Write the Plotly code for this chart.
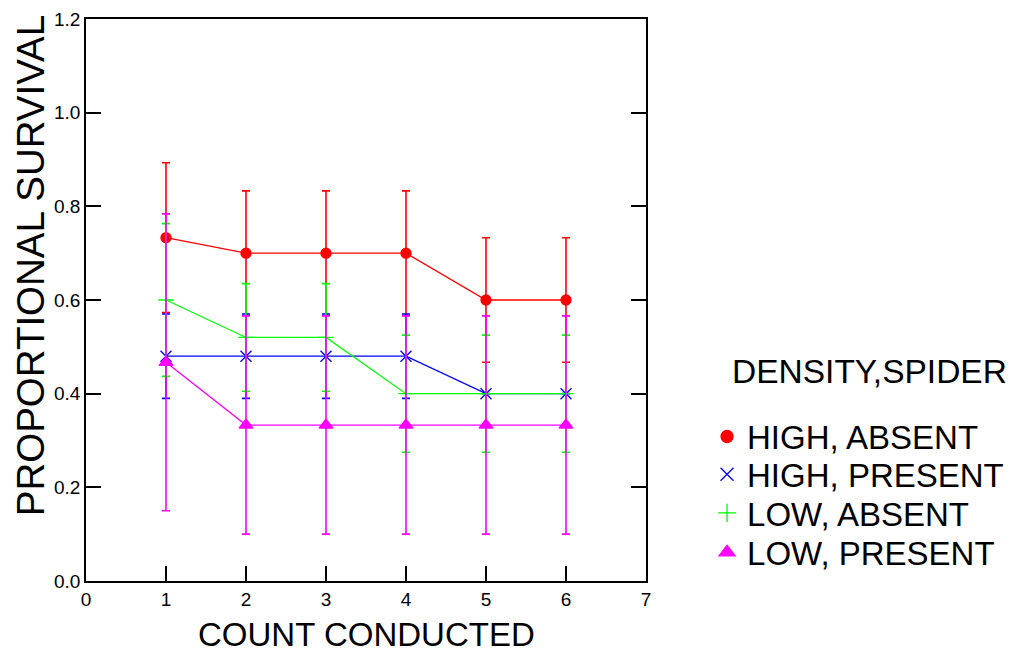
import plotly.graph_objects as go

counts = [1, 2, 3, 4, 5, 6]
series_names = ["HIGH, ABSENT", "HIGH, PRESENT", "LOW, ABSENT", "LOW, PRESENT"]
high_absent = [0.733, 0.70, 0.70, 0.70, 0.60, 0.60]
high_absent_err = [0.16, 0.133, 0.133, 0.133, 0.133, 0.133]
high_present = [0.48, 0.48, 0.48, 0.48, 0.40, 0.40]
high_present_err = [0.09, 0.09, 0.09, 0.09, 0.0, 0.0]
low_absent = [0.60, 0.52, 0.52, 0.40, 0.40, 0.40]
low_absent_err = [0.163, 0.115, 0.115, 0.125, 0.125, 0.125]
low_present = [0.467, 0.333, 0.333, 0.333, 0.333, 0.333]
low_present_err = [0.317, 0.233, 0.233, 0.233, 0.233, 0.233]

x_ticks = [0, 1, 2, 3, 4, 5, 6, 7]
y_ticks = [0.0, 0.2, 0.4, 0.6, 0.8, 1.0, 1.2]
y_tick_text = ["0.0", "0.2", "0.4", "0.6", "0.8", "1.0", "1.2"]

colors = ["#ff0000", "#0000ff", "#00ff00", "#ff00ff"]
symbols = ["circle", "x-thin-open", "cross-thin-open", "triangle-up"]
sizes = [10, 11, 11, 12]
values = [high_absent, high_present, low_absent, low_present]
errors = [high_absent_err, high_present_err, low_absent_err, low_present_err]

FONT = "Liberation Sans, Arial, sans-serif"

fig = go.Figure()
for name, ys, es, c, s, sz in zip(series_names, values, errors, colors, symbols, sizes):
    fig.add_trace(go.Scatter(
        x=counts, y=ys, mode="lines+markers", name=name, showlegend=False,
        line=dict(color=c, width=1.3),
        marker=dict(color=c, symbol=s, size=sz, line=dict(color=c, width=1.3)),
        error_y=dict(type="data", array=es, visible=True, color=c, thickness=1.6, width=4),
    ))

legend_ids = ["legend", "legend2", "legend3", "legend4"]
legend_rows = [0.257, 0.19, 0.121, 0.051]
for name, c, s, sz, lid in zip(series_names, colors, symbols, sizes, legend_ids):
    fig.add_trace(go.Scatter(
        x=[None], y=[None], mode="markers", name=name, showlegend=True, legend=lid,
        marker=dict(color=c, symbol=s, size=sz + 2, line=dict(color=c, width=1.3)),
    ))

legend_layout = {}
for lid, ly in zip(legend_ids, legend_rows):
    legend_layout[lid] = dict(x=1.109, xanchor="left", y=ly, yanchor="middle",
                              font=dict(size=33, family=FONT, color="black"),
                              bgcolor="rgba(0,0,0,0)", itemwidth=30)

fig.update_layout(
    width=1013, height=653,
    margin=dict(l=86, r=367, t=19, b=72, autoexpand=False),
    paper_bgcolor="white", plot_bgcolor="white",
    font=dict(family=FONT, color="black"),
    showlegend=True,
    xaxis=dict(range=[0, 7], tickvals=x_ticks, ticks="inside", ticklen=15, tickwidth=1.5,
               tickcolor="black", showline=True, linecolor="black", linewidth=1.5, mirror=True,
               showgrid=False, zeroline=False, tickfont=dict(size=19, family=FONT)),
    yaxis=dict(range=[0, 1.2], tickvals=y_ticks, ticktext=y_tick_text, ticks="inside", ticklen=15,
               tickwidth=1.5, tickcolor="black", showline=True, linecolor="black", linewidth=1.5,
               mirror="ticks", showgrid=False, zeroline=False, tickfont=dict(size=19, family=FONT)),
    annotations=[
        dict(text="COUNT CONDUCTED", xref="paper", yref="paper", x=0.5, y=-0.095,
             xanchor="center", yanchor="middle", showarrow=False,
             font=dict(size=33, family=FONT, color="black")),
        dict(text="PROPORTIONAL SURVIVAL", xref="paper", yref="paper", x=-0.1, y=0.56,
             xanchor="center", yanchor="middle", showarrow=False, textangle=-90,
             font=dict(size=38.5, family=FONT, color="black")),
        dict(text="DENSITY,SPIDER", xref="paper", yref="paper", x=1.15, y=0.372,
             xanchor="left", yanchor="middle", showarrow=False,
             font=dict(size=33.5, family=FONT, color="black")),
    ],
    **legend_layout,
)

fig.write_html("out.html")
